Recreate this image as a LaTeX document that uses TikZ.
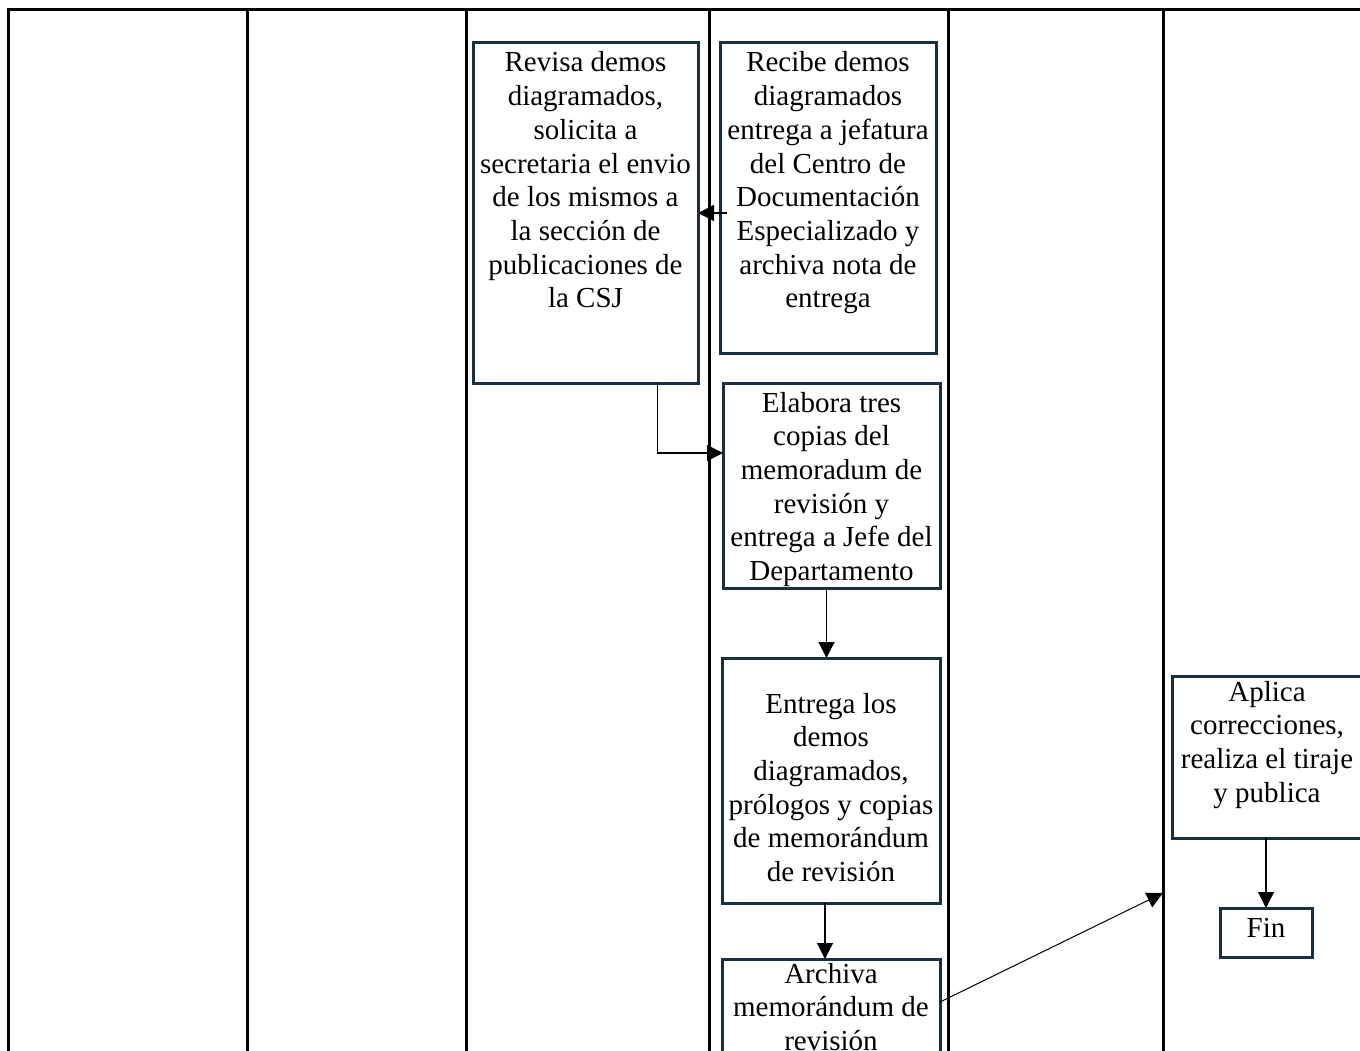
\documentclass[tikz,border=0pt]{standalone}
\usepackage{fontspec}
\setmainfont{Liberation Serif}
\usetikzlibrary{arrows.meta,calc}
\definecolor{boxline}{HTML}{1A2F40}
% box body: width, height, first-baseline drop, text
\newcommand{\stepbody}[4]{\parbox[c][#2pt][t]{#1pt}{\centering\rule{0pt}{#3pt}#4}}
\tikzset{
  lane/.style={line width=3pt, black},
  stepbox/.style={draw=boxline, line width=3pt, fill=white, inner sep=0pt, outer sep=0pt,
    anchor=north west, font=\fontsize{29pt}{33.7pt}\selectfont},
  flow/.style={line width=1.2pt, black, -{Triangle[length=16pt,width=16pt]}},
}
\begin{document}
\begin{tikzpicture}[x=1pt,y=-1pt]
\useasboundingbox (0,0) rectangle (1360,1051);
\clip (0,0) rectangle (1360,1051);
\fill[white] (0,0) rectangle (1360,1051);

% swimlane frame
\draw[lane] (8,1070) -- (8,10) -- (1370,10);
\foreach \x in {247,466,709,948,1163} \draw[lane] (\x,10) -- (\x,1070);

% process boxes
\node[stepbox] (revisa) at (473,43) {\stepbody{225}{340}{29}{Revisa demos\\diagramados,\\solicita a\\secretaria el envio\\de los mismos a\\la sección de\\publicaciones de\\la CSJ}};
\node[stepbox] (recibe) at (720,43) {\stepbody{216}{310}{29}{Recibe demos\\diagramados\\entrega a jefatura\\del Centro de\\Documentación\\Especializado y\\archiva nota de\\entrega}};
\node[stepbox] (elabora) at (723,383) {\stepbody{217}{205}{29}{Elabora tres\\copias del\\memoradum de\\revisión y\\entrega a Jefe del\\Departamento}};
\node[stepbox] (entrega) at (722,658) {\stepbody{218}{245}{55}{Entrega los\\demos\\diagramados,\\prólogos y copias\\de memorándum\\de revisión}};
\node[stepbox] (archiva) at (722,959) {\stepbody{218}{140}{24}{Archiva\\memorándum de\\revisión}};
\node[stepbox] (aplica) at (1172,676) {\stepbody{190}{162}{25}{Aplica\\correcciones,\\realiza el tiraje\\y publica}};
\node[stepbox] (fin) at (1220,908) {\stepbody{92}{49}{29}{Fin}};

% connectors
\draw[flow] ($(recibe.west |- revisa.east)+(7,0)$) -- (revisa.east);
\draw[flow] ($(revisa.south)+(72,0)$) |- ($(elabora.west)+(0,-32.5)$);
\draw[flow] ($(elabora.south)+(-5,0)$) coordinate (e1) -- (e1 |- entrega.north);
\draw[flow] ($(entrega.south)+(-6,0)$) coordinate (e2) -- (e2 |- archiva.north);
\coordinate (lanehit) at (1163,893);
\draw[flow, line width=1pt] ($(archiva.north east)+(0,43)$) -- (lanehit);
\draw[flow] (aplica.south -| fin.north) -- (fin.north);
\end{tikzpicture}
\end{document}
